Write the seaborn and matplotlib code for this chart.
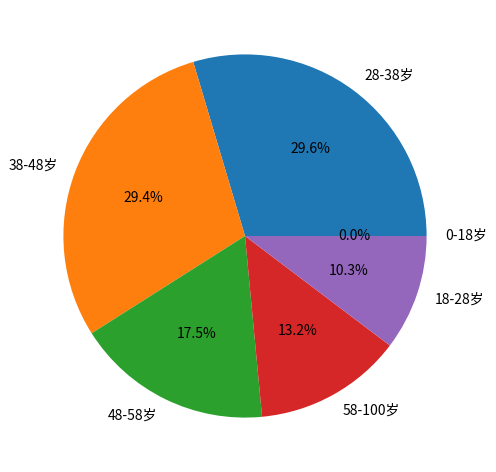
import matplotlib.pyplot as plt
import seaborn as sns

# data
age_groups = ['28-38岁', '38-48岁', '48-58岁', '58-100岁', '18-28岁', '0-18岁']
shares = [29.6, 29.4, 17.5, 13.2, 10.3, 0.0]

plt.rcParams['font.family'] = ['Noto Sans CJK SC', 'DejaVu Sans']

colors = sns.color_palette('tab10', len(age_groups))

fig = plt.figure(figsize=(4.96, 4.72), dpi=100)
ax = fig.add_axes([0.0363, 0.019, 0.9153, 0.962])
ax.pie(shares, labels=age_groups, colors=colors, autopct='%1.1f%%')
ax.set_aspect('equal')

plt.savefig('out.png')
plt.close()
print('Saved: out.png')
